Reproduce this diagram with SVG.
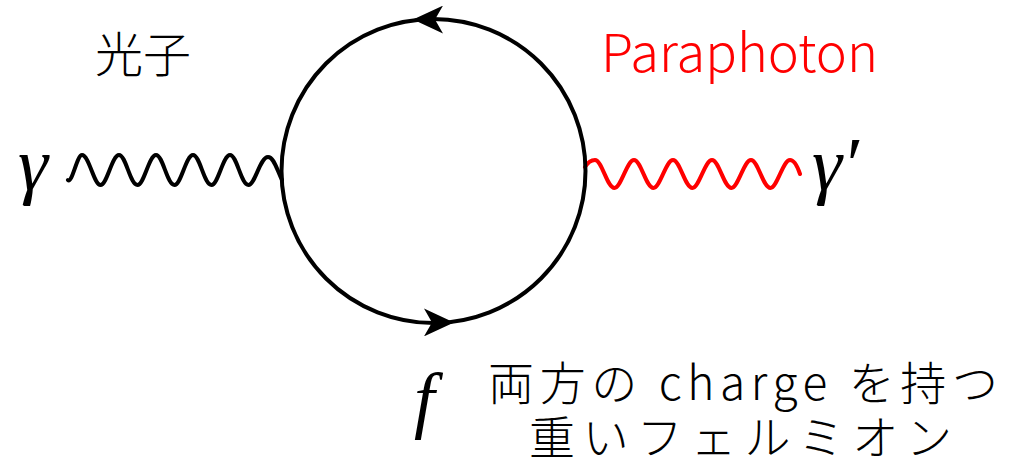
<svg xmlns="http://www.w3.org/2000/svg" width="1014" height="468" viewBox="0 0 1014 468">
<style>
.line{fill:none;stroke-width:4;stroke-linecap:round;stroke-linejoin:round}
.math{font-family:"Liberation Serif","DejaVu Serif",serif;font-style:italic;fill:#000}
.jp{font-family:"Noto Sans CJK JP",sans-serif;font-weight:300;fill:#000}
</style>
<defs>
<marker id="arr" viewBox="0 0 30 28" refX="15" refY="14" markerWidth="30" markerHeight="28" markerUnits="userSpaceOnUse" orient="auto">
<path d="M30,14 L0,0 L8,14 L0,28 Z" fill="#000"/>
</marker>
</defs>
<rect width="1014" height="468" fill="#fff"/>
<g id="connectors">
<path id="photon" class="line" stroke="#000" d="M68,180 C72,184 77,155 82,155 C89,155 94,185 100.5,185 C107,185 112,155 119,155 C126,155 130,185 137.5,185 C144,185 149,155 156,155 C163,155 167,185 174.5,185 C181,185 186,155 193,155 C200,155 204,185 211.5,185 C218,185 223,155 230,155 C237,155 241,185 248.5,185 C255,185 260,157 268,157 C274,157 277,170 282,180"/>
<path id="paraphoton" class="line" stroke="#ff0000" d="M585,167 C588,162 591,160 595,160 C602,160 607,188 614.5,188 C621,188 627,160 634,160 C641,160 646,188 653.5,188 C660,188 666,160 673,160 C680,160 685,188 692.5,188 C699,188 705,160 712,160 C719,160 724,188 731.5,188 C738,188 744,160 751,160 C758,160 763,188 770.5,188 C777,188 783,160 790,160 C794,160 797,165 800,174"/>
<circle id="loop" class="line" stroke="#000" stroke-width="4.8" cx="433.5" cy="171" r="152"/>
<path class="line" stroke="none" d="M446,19.6 L428,19.6" marker-end="url(#arr)"/>
<path class="line" stroke="none" d="M421,322.4 L439,322.4" marker-end="url(#arr)"/>
</g>
<g id="gamma"><text class="math" x="18" y="190" font-size="76">γ</text></g>
<g id="gamma-prime"><text class="math" x="812" y="190" font-size="76">γ′</text></g>
<g id="fermion"><text class="math" x="414" y="424" font-size="74">f</text></g>
<g id="label-photon"><text class="jp" x="95" y="72" font-size="48">光子</text></g>
<g id="label-paraphoton"><text class="jp" x="601" y="72" font-size="52" style="fill:#ff0000" textLength="277" lengthAdjust="spacingAndGlyphs">Paraphoton</text></g>
<g id="label-fermion">
<text class="jp" x="488" y="400" font-size="46" textLength="510" lengthAdjust="spacing">両方の charge を持つ</text>
<text class="jp" x="529" y="454" font-size="46" textLength="423" lengthAdjust="spacing">重いフェルミオン</text>
</g>
</svg>
